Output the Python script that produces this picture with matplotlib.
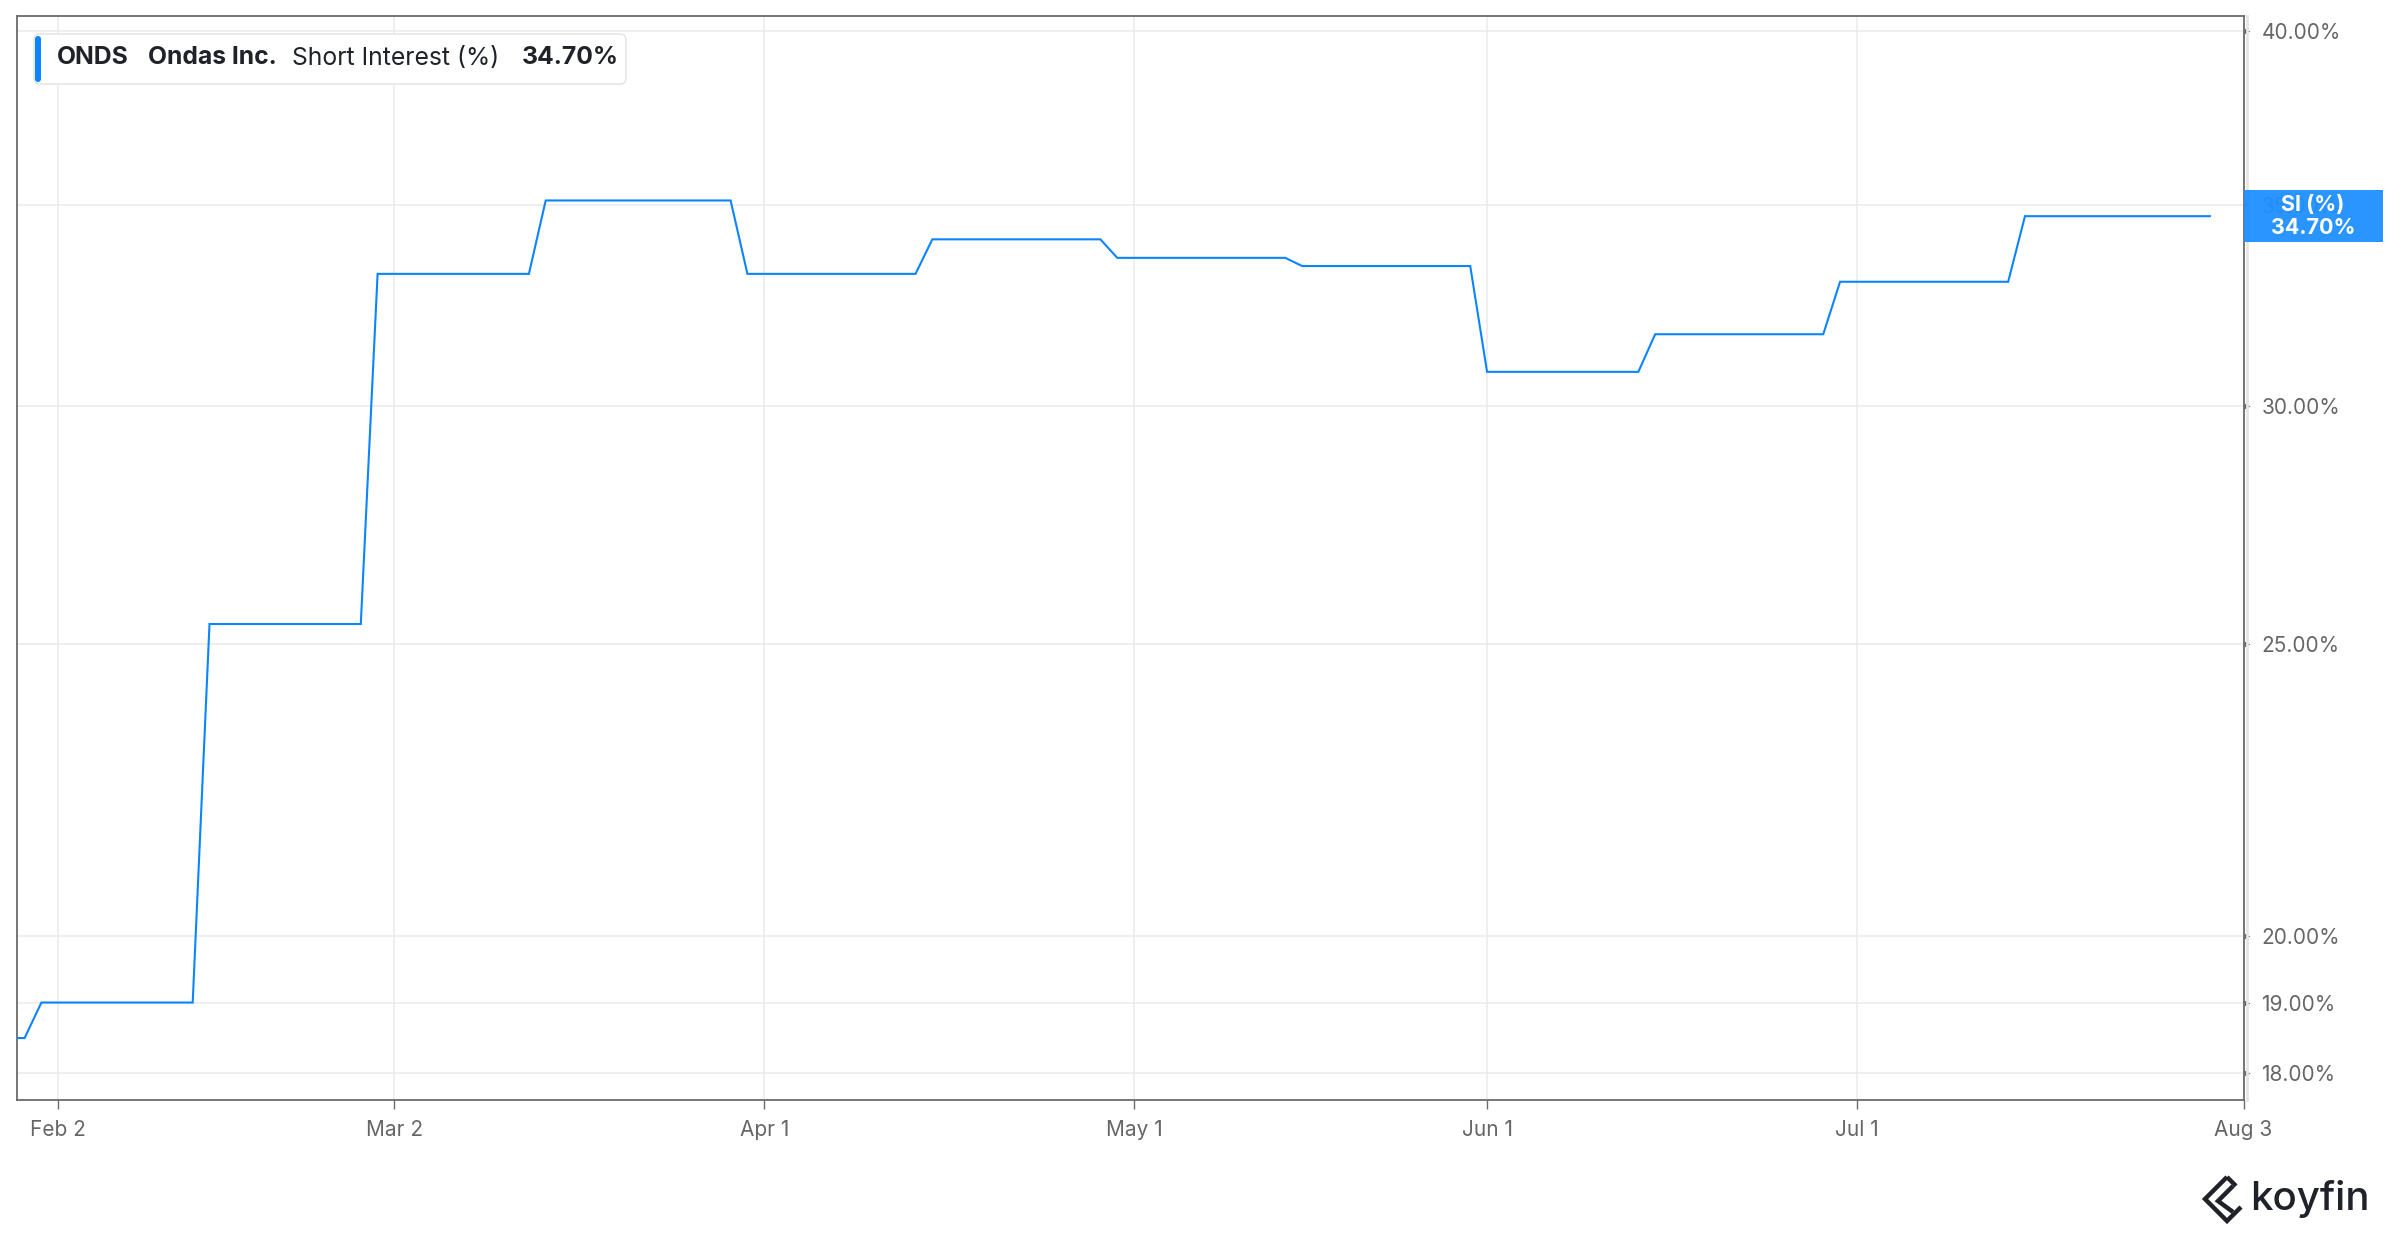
import numpy as np
import matplotlib
matplotlib.use("Agg")
import matplotlib.pyplot as plt
import matplotlib.transforms as mtransforms
from matplotlib.patches import FancyBboxPatch, Rectangle
from matplotlib.lines import Line2D
from matplotlib.ticker import FixedLocator, NullLocator, FixedFormatter

# ---------------- data ----------------
dates = ["2026-01-28", "2026-01-29", "2026-01-30", "2026-02-12", "2026-02-13",
         "2026-02-26", "2026-02-27", "2026-03-12", "2026-03-13", "2026-03-30",
         "2026-03-31", "2026-04-14", "2026-04-15", "2026-04-29", "2026-04-30",
         "2026-05-14", "2026-05-15", "2026-05-29", "2026-06-01", "2026-06-12",
         "2026-06-15", "2026-06-29", "2026-06-30", "2026-07-14", "2026-07-15",
         "2026-07-30"]
short_interest = [18.49, 18.49, 19.00, 19.00, 25.39,
                  25.39, 33.20, 33.20, 35.12, 35.12,
                  33.20, 33.20, 34.09, 34.09, 33.61,
                  33.61, 33.40, 33.40, 30.80, 30.80,
                  31.70, 31.70, 33.00, 33.00, 34.70,
                  34.70]
tick_dates = ["2026-02-02", "2026-03-02", "2026-04-01", "2026-05-01",
              "2026-06-01", "2026-07-01", "2026-08-03"]
tick_labels = ["Feb 2", "Mar 2", "Apr 1", "May 1", "Jun 1", "Jul 1", "Aug 3"]
y_ticks = [18, 19, 20, 25, 30, 35, 40]
y_tick_labels = ["18.00%", "19.00%", "20.00%", "25.00%", "30.00%", "35.00%", "40.00%"]
ticker = "ONDS"
company = "Ondas Inc."
metric = "Short Interest (%)"
badge_label = "SI (%)"
last_value = 34.70

# ---------------- style ----------------
plt.rcParams['font.family'] = ['Inter', 'DejaVu Sans']
LINE = '#0a84ff'
GRID = '#ebebeb'
SPINE = '#6b6b6b'
TICKTXT = '#666666'
DARK = '#1f2329'

W, H = 2400, 1240
fig = plt.figure(figsize=(W / 100, H / 100), dpi=100)
fig.patch.set_facecolor('white')

# axes box in pixels: left 16.7, right 2243.5, top 16, bottom 1099.5
L, R, T, B = 16.7, 2243.5, 16.0, 1099.5
ax = fig.add_axes([L / W, 1 - B / H, (R - L) / W, (B - T) / H])

origin = tick_dates[0]
x = np.busday_count(origin, dates)
xt = np.busday_count(origin, tick_dates)

ax.plot(x, short_interest, color=LINE, lw=1.5, solid_joinstyle='miter', zorder=3)

ax.set_yscale('log')
ax.set_ylim(17.64, 40.45)
ax.set_xlim(-2.47, xt[-1] - 0.02)

ax.yaxis.set_major_locator(FixedLocator(y_ticks))
ax.yaxis.set_major_formatter(FixedFormatter(y_tick_labels))
ax.yaxis.set_minor_locator(NullLocator())
ax.yaxis.tick_right()
ax.tick_params(axis='y', which='both', length=0, pad=13, labelsize=15, labelcolor=TICKTXT)

ax.set_xticks(xt)
ax.set_xticklabels(tick_labels)
ax.tick_params(axis='x', length=6.5, width=1.0, color=SPINE, pad=8,
               labelsize=15, labelcolor=TICKTXT)

ax.grid(True, which='major', color=GRID, lw=1.1, zorder=0)
ax.set_axisbelow(True)
for s in ax.spines.values():
    s.set_color(SPINE)
    s.set_linewidth(1.3)

# small arrow markers for y ticks at right spine
trans = mtransforms.blended_transform_factory(ax.transAxes, ax.transData)
trans = mtransforms.offset_copy(trans, fig=fig, x=3, y=0, units='dots')
ax.plot([1.0] * len(y_ticks), y_ticks, transform=trans, ls='none', marker='>',
        ms=4.5, color=SPINE, mec='none', clip_on=False, zorder=4)

ident = mtransforms.IdentityTransform()
def dy(y_img):
    return H - y_img

# faint line right of the spine
fig.add_artist(Line2D([2247, 2247], [dy(16), dy(1100)], transform=ident,
                      color='#e6e6e6', lw=2))

# ---------------- legend box ----------------
box = FancyBboxPatch((34, dy(84)), 592, 50, boxstyle='round,pad=0,rounding_size=6',
                     transform=ident, facecolor='white', edgecolor='#e2e2e2', lw=1.0,
                     zorder=5)
fig.add_artist(box)
bar = FancyBboxPatch((35, dy(82)), 6, 46, boxstyle='round,pad=0,rounding_size=3',
                     transform=ident, facecolor=LINE, edgecolor='none', zorder=6)
fig.add_artist(bar)
ty = dy(58)
fs_leg = 17.8
fig.text(57 / W, ty / H, ticker, fontsize=fs_leg, fontweight='bold', color=DARK,
         va='center', ha='left', zorder=7)
fig.text(148 / W, ty / H, company, fontsize=fs_leg, fontweight='bold', color=DARK,
         va='center', ha='left', zorder=7)
fig.text(292 / W, ty / H, metric, fontsize=fs_leg, color=DARK,
         va='center', ha='left', zorder=7)
fig.text(522 / W, ty / H, f"{last_value:.2f}%", fontsize=fs_leg, fontweight='bold',
         color=DARK, va='center', ha='left', zorder=7)

# ---------------- last-value badge ----------------
badge = Rectangle((2244, dy(242)), 139, 52, transform=ident, facecolor='#1e8fff',
                  edgecolor='none', alpha=0.95, zorder=5)
fig.add_artist(badge)
fig.text(2313 / W, dy(205) / H, badge_label, fontsize=15.5, fontweight='bold',
         color='white', ha='center', va='center', zorder=6)
fig.text(2313 / W, dy(228) / H, f"{last_value:.2f}%", fontsize=15.5, fontweight='bold',
         color='white', ha='center', va='center', zorder=6)

# ---------------- koyfin logo ----------------
fig.text(2250 / W, dy(1199) / H, "koyfin", fontsize=29, fontweight='medium',
         color=DARK, ha='left', va='center')
for xs, ys in [([2227, 2205, 2227, 2241], [1177, 1199, 1221, 1207]),
               ([2233, 2218, 2233], [1186, 1201, 1212]),
               ([2227, 2236], [1177, 1186])]:
    fig.add_artist(Line2D(xs, [dy(v) for v in ys], transform=ident, color=DARK,
                          lw=3.2, solid_joinstyle='miter', solid_capstyle='butt'))

fig.savefig("out.png", dpi=100, facecolor='white')
